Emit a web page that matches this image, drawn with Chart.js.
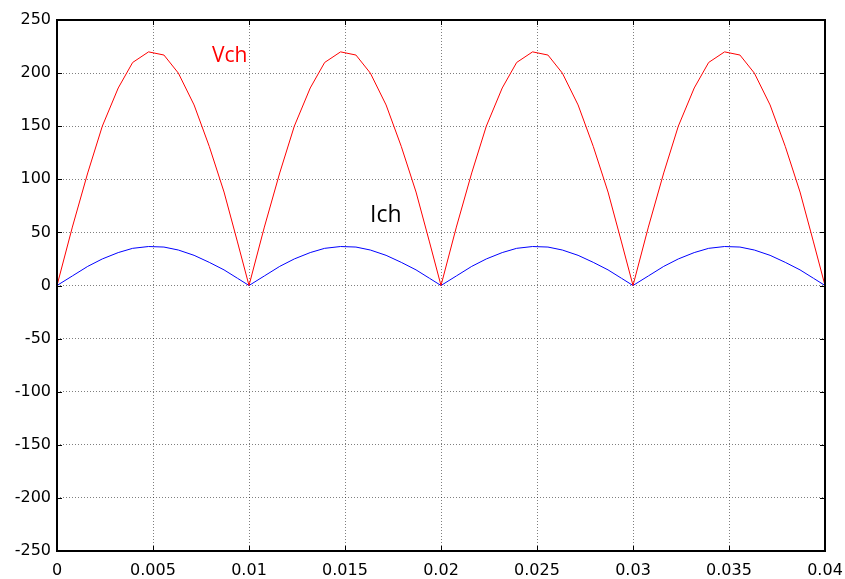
<!DOCTYPE html>
<html>
<head>
<meta charset="utf-8">
<script src="https://cdn.jsdelivr.net/npm/chart.js@4.4.0/dist/chart.umd.min.js"></script>
<style>
  html, body { margin: 0; padding: 0; background: #fff; }
  #wrap { width: 845px; height: 579px; }
</style>
</head>
<body>
<div id="wrap"><canvas id="plot"></canvas></div>
<script>
// sample times (s)
var temps = [
  0, 0.0008, 0.0016, 0.00236, 0.00319, 0.00394, 0.00477, 0.00557, 0.00632, 0.00714, 0.00793, 0.0087, 0.0094,
  0.01, 0.0108, 0.0116, 0.01236, 0.01319, 0.01394, 0.01477, 0.01557, 0.01632, 0.01714, 0.01793, 0.0187, 0.0194,
  0.02, 0.0208, 0.0216, 0.02236, 0.02319, 0.02394, 0.02477, 0.02557, 0.02632, 0.02714, 0.02793, 0.0287, 0.0294,
  0.03, 0.0308, 0.0316, 0.03236, 0.03319, 0.03394, 0.03477, 0.03557, 0.03632, 0.03714, 0.03793, 0.0387, 0.0394,
  0.04
];
var vch = [
  0, 55, 106, 150, 186, 210, 220, 217, 200, 170, 131, 88, 41,
  0, 55, 106, 150, 186, 210, 220, 217, 200, 170, 131, 88, 41,
  0, 55, 106, 150, 186, 210, 220, 217, 200, 170, 131, 88, 41,
  0, 55, 106, 150, 186, 210, 220, 217, 200, 170, 131, 88, 41,
  0
];
var ich = [
  0, 9, 18, 25, 31, 35, 36.7, 36.2, 33.4, 28.4, 21.8, 14.7, 6.8,
  0, 9, 18, 25, 31, 35, 36.7, 36.2, 33.4, 28.4, 21.8, 14.7, 6.8,
  0, 9, 18, 25, 31, 35, 36.7, 36.2, 33.4, 28.4, 21.8, 14.7, 6.8,
  0, 9, 18, 25, 31, 35, 36.7, 36.2, 33.4, 28.4, 21.8, 14.7, 6.8,
  0
];
var xTicks = [0, 0.005, 0.01, 0.015, 0.02, 0.025, 0.03, 0.035, 0.04];
var yTicks = [-250, -200, -150, -100, -50, 0, 50, 100, 150, 200, 250];

function pts(ys) {
  var out = [];
  for (var i in temps) out.push({x: temps[i], y: ys[i]});
  return out;
}

// box, inner ticks and the two text labels, MATLAB style
var matlabBox = {
  id: 'matlabBox',
  afterDraw: function(chart) {
    var c = chart.ctx, a = chart.chartArea;
    var xs = chart.scales.x, ys = chart.scales.y;
    c.save();
    c.strokeStyle = '#000';
    c.lineWidth = 1;
    for (var i in xTicks) {
      var px = Math.round(xs.getPixelForValue(xTicks[i])) + 0.5;
      c.beginPath();
      c.moveTo(px, a.bottom); c.lineTo(px, a.bottom - 5);
      c.moveTo(px, a.top); c.lineTo(px, a.top + 5);
      c.stroke();
    }
    for (var j in yTicks) {
      var py = Math.round(ys.getPixelForValue(yTicks[j])) + 0.5;
      c.beginPath();
      c.moveTo(a.left, py); c.lineTo(a.left + 5, py);
      c.moveTo(a.right, py); c.lineTo(a.right - 5, py);
      c.stroke();
    }
    c.lineWidth = 2;
    c.strokeRect(a.left, a.top, a.right - a.left, a.bottom - a.top);

    c.textAlign = 'left';
    c.textBaseline = 'alphabetic';
    c.fillStyle = '#ff0000';
    c.font = '21px "Open Sans"';
    c.fillText('Vch', xs.getPixelForValue(0.00807), ys.getPixelForValue(210.5));
    c.fillStyle = '#000';
    c.font = '23px "Open Sans"';
    c.fillText('Ich', xs.getPixelForValue(0.0163), ys.getPixelForValue(60));
    c.restore();
  }
};

var ctx = document.getElementById('plot');

var chart = new Chart(ctx, {
  type: 'line',
  data: {
    datasets: [
      {
        label: 'Vch',
        data: pts(vch),
        borderColor: '#ff0000',
        borderWidth: 1,
        pointRadius: 0,
        tension: 0
      },
      {
        label: 'Ich',
        data: pts(ich),
        borderColor: '#0000ff',
        borderWidth: 1,
        pointRadius: 0,
        tension: 0
      }
    ]
  },
  options: {
    responsive: true,
    maintainAspectRatio: false,
    animation: false,
    events: [],
    layout: { padding: { top: 20, right: 20, left: 0, bottom: 0 } },
    plugins: { legend: { display: false }, tooltip: { enabled: false } },
    scales: {
      x: {
        type: 'linear',
        min: 0,
        max: 0.04,
        afterBuildTicks: function(s) { s.ticks = xTicks.map(function(v) { return {value: v}; }); },
        afterFit: function(s) { s.height = 28; s.paddingLeft = 0; s.paddingRight = 0; },
        ticks: {
          color: '#000',
          padding: 10,
          maxRotation: 0,
          font: { family: 'DejaVu Sans', size: 16 },
          callback: function(v) { return String(+v.toFixed(3)); }
        },
        grid: { color: 'rgba(0,0,0,0.5)', drawTicks: false },
        border: { display: false, dash: [1, 2] }
      },
      y: {
        min: -250,
        max: 250,
        afterBuildTicks: function(s) { s.ticks = yTicks.map(function(v) { return {value: v}; }); },
        afterFit: function(s) { s.width = 57; s.paddingTop = 0; s.paddingBottom = 0; },
        ticks: {
          color: '#000',
          padding: 6,
          font: { family: 'DejaVu Sans', size: 16 }
        },
        grid: { color: 'rgba(0,0,0,0.5)', drawTicks: false },
        border: { display: false, dash: [1, 2] }
      }
    }
  },
  plugins: [matlabBox]
});
</script>
</body>
</html>
